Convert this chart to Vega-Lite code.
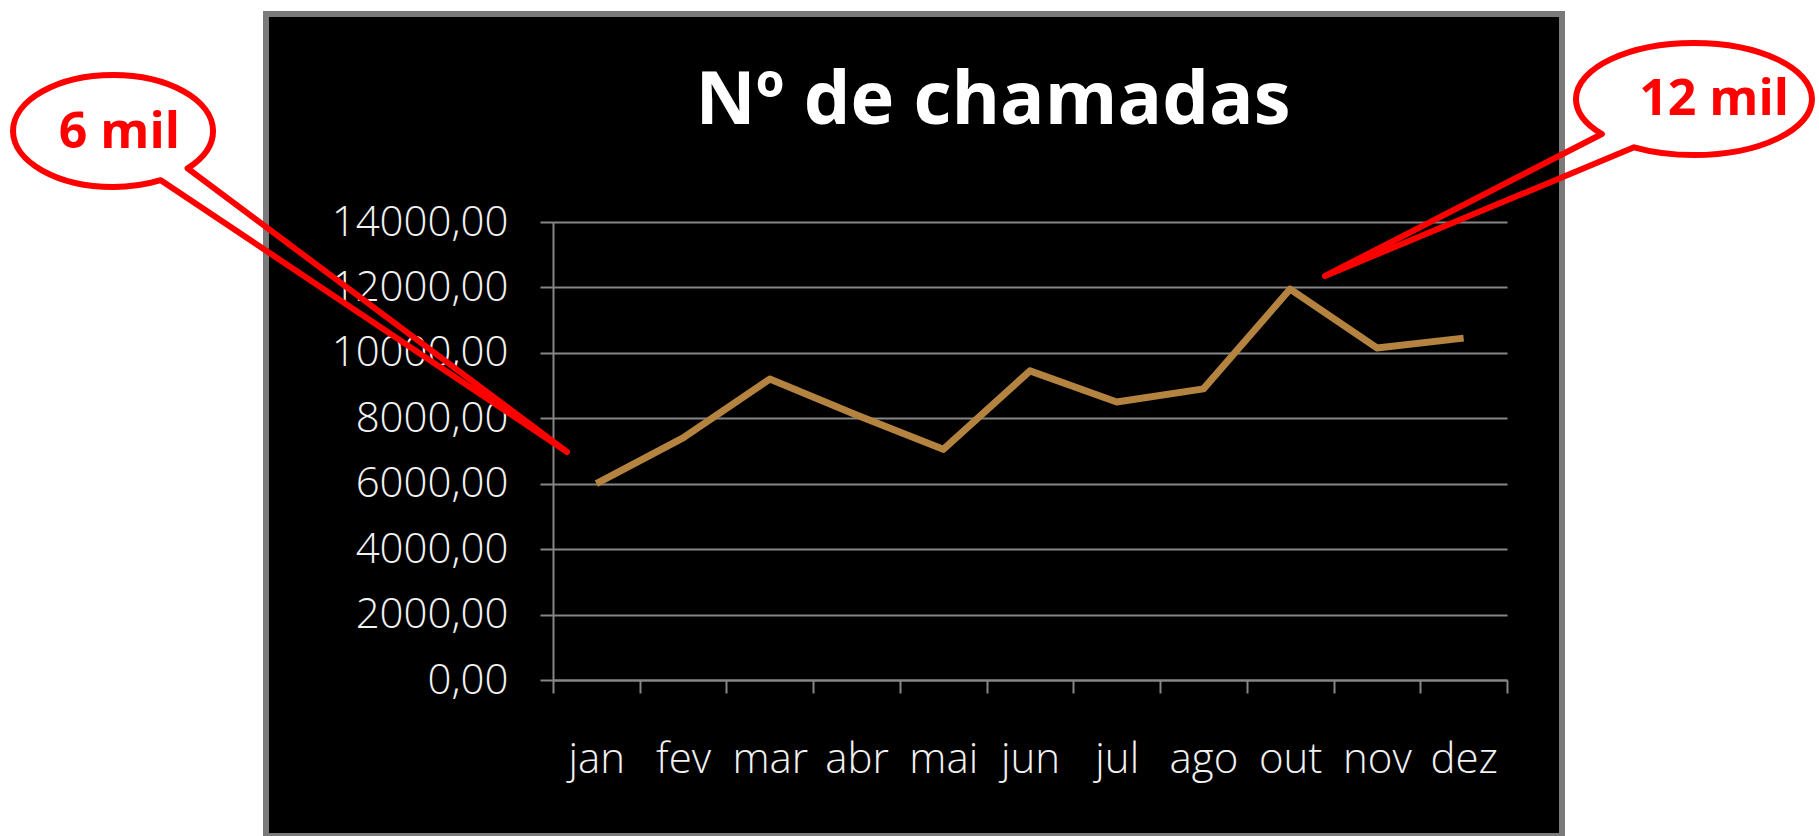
{
  "$schema": "https://vega.github.io/schema/vega-lite/v6.json",
  "autosize": {"type": "none"},
  "width": 1296,
  "height": 822,
  "padding": {"left": 266, "top": 14, "right": 257, "bottom": 0},
  "background": "white",
  "config": {
    "view": {"fill": "black", "stroke": "#7a7a7a", "strokeWidth": 6}
  },
  "title": {
    "text": "Nº de chamadas",
    "color": "white",
    "font": "Open Sans",
    "fontSize": 74,
    "fontWeight": "bold",
    "anchor": "middle",
    "frame": "group",
    "orient": "top",
    "offset": -184,
    "baseline": "alphabetic",
    "dx": 79
  },
  "resolve": {"scale": {"x": "independent", "y": "independent"}},
  "layer": [
    {
      "data": {
        "values": [
          {"mes": "jan", "chamadas": 6000},
          {"mes": "fev", "chamadas": 7400},
          {"mes": "mar", "chamadas": 9200},
          {"mes": "abr", "chamadas": 8100},
          {"mes": "mai", "chamadas": 7050},
          {"mes": "jun", "chamadas": 9450},
          {"mes": "jul", "chamadas": 8500},
          {"mes": "ago", "chamadas": 8900},
          {"mes": "out", "chamadas": 11950},
          {"mes": "nov", "chamadas": 10150},
          {"mes": "dez", "chamadas": 10450}
        ]
      },
      "mark": {"type": "line", "color": "#b4833f", "strokeWidth": 7, "strokeJoin": "round"},
      "encoding": {
        "x": {
          "field": "mes",
          "type": "ordinal",
          "sort": null,
          "scale": {"type": "band", "range": [287, 1241], "paddingInner": 0, "paddingOuter": 0},
          "axis": {
            "title": null,
            "orient": "bottom",
            "offset": -156,
            "tickBand": "extent",
            "tickSize": 13,
            "tickColor": "#868686",
            "tickWidth": 2,
            "domainColor": "#868686",
            "domainWidth": 2,
            "grid": false,
            "labelColor": "#f2f2f2",
            "labelFont": "Open Sans",
            "labelFontWeight": 300,
            "labelFontSize": 42,
            "labelPadding": 79,
            "labelBaseline": "alphabetic",
            "labelAngle": 0,
            "labelOverlap": false
          }
        },
        "y": {
          "field": "chamadas",
          "type": "quantitative",
          "scale": {"domain": [0, 14000], "range": [666, 208], "nice": false, "zero": false},
          "axis": {
            "title": null,
            "orient": "left",
            "offset": -287,
            "values": [0, 2000, 4000, 6000, 8000, 10000, 12000, 14000],
            "labelExpr": "datum.value + ',00'",
            "tickSize": 13,
            "tickColor": "#868686",
            "tickWidth": 2,
            "domainColor": "#868686",
            "domainWidth": 2,
            "grid": true,
            "gridColor": "#868686",
            "gridWidth": 2,
            "labelColor": "#f2f2f2",
            "labelFont": "Open Sans",
            "labelFontWeight": 300,
            "labelFontSize": 42,
            "labelPadding": 32,
            "labelOverlap": false,
            "labelFlush": false
          }
        }
      }
    },
    {
      "data": {"values": [{"rotulo": "6 mil"}]},
      "layer": [
        {
          "mark": {"type": "point", "shape": "M0.4772,0.4921 C0.3307,0.5366 0.1667,0.56 0,0.56 C-0.5523,0.56 -1,0.3093 -1,0 C-1,-0.3093 -0.5523,-0.56 0,-0.56 C0.5523,-0.56 1,-0.3093 1,0 C1,0.1377 0.9094,0.2705 0.7455,0.3732 L4.54,3.21 Z", "size": 40000, "filled": false, "stroke": "#ff0000", "strokeWidth": 6, "opacity": 1, "strokeJoin": "round"},
          "encoding": {
            "x": {"datum": -4.573, "type": "quantitative", "scale": {"domain": [0.5, 11.5], "range": [287, 1241]}, "axis": null},
            "y": {"datum": 16782, "type": "quantitative", "scale": {"domain": [0, 14000], "range": [666, 208], "nice": false, "zero": false}, "axis": null}
          }
        },
        {
          "mark": {"type": "text", "font": "Open Sans", "fontWeight": "bold", "fontSize": 50, "color": "#ff0000", "baseline": "alphabetic", "align": "center"},
          "encoding": {
            "x": {"datum": -4.5, "type": "quantitative", "scale": {"domain": [0.5, 11.5], "range": [287, 1241]}, "axis": null},
            "y": {"datum": 16262, "type": "quantitative", "scale": {"domain": [0, 14000], "range": [666, 208], "nice": false, "zero": false}, "axis": null},
            "text": {"field": "rotulo"}
          }
        }
      ]
    },
    {
      "data": {"values": [{"rotulo": "12 mil"}]},
      "layer": [
        {
          "mark": {"type": "point", "shape": "M-0.7804,0.297 C-0.9225,0.2127 -1,0.108 -1,0 C-1,-0.2623 -0.5523,-0.475 0,-0.475 C0.5523,-0.475 1,-0.2623 1,0 C1,0.2623 0.5523,0.475 0,0.475 C-0.1785,0.475 -0.3537,0.4523 -0.5075,0.4093 L-3.127,1.5 Z", "size": 55696, "filled": false, "stroke": "#ff0000", "strokeWidth": 6, "opacity": 1, "strokeJoin": "round"},
          "encoding": {
            "x": {"datum": 13.656, "type": "quantitative", "scale": {"domain": [0.5, 11.5], "range": [287, 1241]}, "axis": null},
            "y": {"datum": 17760, "type": "quantitative", "scale": {"domain": [0, 14000], "range": [666, 208], "nice": false, "zero": false}, "axis": null}
          }
        },
        {
          "mark": {"type": "text", "font": "Open Sans", "fontWeight": "bold", "fontSize": 50, "color": "#ff0000", "baseline": "alphabetic", "align": "center"},
          "encoding": {
            "x": {"datum": 13.887, "type": "quantitative", "scale": {"domain": [0.5, 11.5], "range": [287, 1241]}, "axis": null},
            "y": {"datum": 17271, "type": "quantitative", "scale": {"domain": [0, 14000], "range": [666, 208], "nice": false, "zero": false}, "axis": null},
            "text": {"field": "rotulo"}
          }
        }
      ]
    }
  ]
}
